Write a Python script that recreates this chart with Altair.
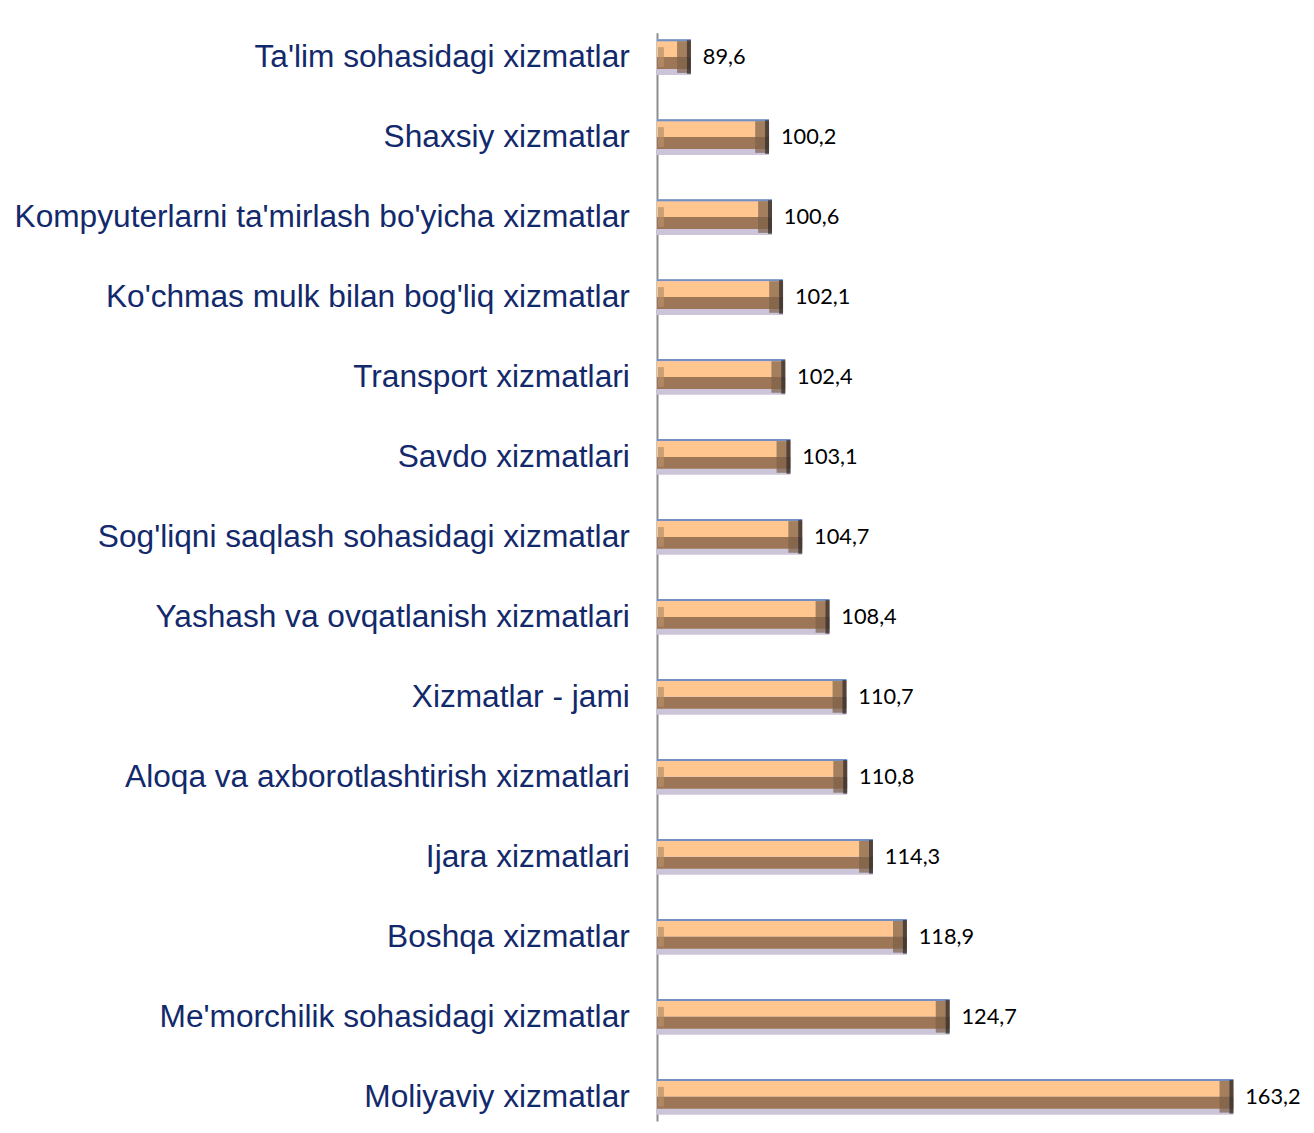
import altair as alt
import pandas as pd

categories = [
    "Ta'lim sohasidagi xizmatlar",
    "Shaxsiy xizmatlar",
    "Kompyuterlarni ta'mirlash bo'yicha xizmatlar",
    "Ko'chmas mulk bilan bog'liq xizmatlar",
    "Transport xizmatlari",
    "Savdo xizmatlari",
    "Sog'liqni saqlash sohasidagi xizmatlar",
    "Yashash va ovqatlanish xizmatlari",
    "Xizmatlar - jami",
    "Aloqa va axborotlashtirish xizmatlari",
    "Ijara xizmatlari",
    "Boshqa xizmatlar",
    "Me'morchilik sohasidagi xizmatlar",
    "Moliyaviy xizmatlar",
]
values = [89.6, 100.2, 100.6, 102.1, 102.4, 103.1, 104.7, 108.4, 110.7, 110.8, 114.3, 118.9, 124.7, 163.2]
value_labels = ["89,6", "100,2", "100,6", "102,1", "102,4", "103,1", "104,7", "108,4",
                "110,7", "110,8", "114,3", "118,9", "124,7", "163,2"]
axis_min = 85
axis_max = 165

df = pd.DataFrame({
    "category": categories,
    "value": values,
    "label": value_labels,
    "base": [axis_min] * len(values),
})

yscale = alt.Scale(paddingInner=0.553, paddingOuter=0.08)
yaxis = alt.Axis(
    title=None, ticks=False, grid=False,
    labelFont="Liberation Sans", labelFontSize=32, labelColor="#12296B",
    labelPadding=28, labelLimit=900,
    domainColor="#8C8C8C", domainWidth=2,
)
xscale = alt.Scale(domain=[axis_min, axis_max], zero=False, nice=False)
xaxis = alt.Axis(orient="top", title=None, labels=False, ticks=False, domain=False,
                 grid=False, minExtent=14, maxExtent=14)


def Y(pos=None):
    if pos is None:
        return alt.Y("category:N", sort=categories, scale=yscale, axis=yaxis)
    return alt.Y("category:N", sort=categories, scale=yscale, axis=yaxis, bandPosition=pos)


X = alt.X("value:Q", scale=xscale, axis=xaxis)
XB = alt.X("base:Q", scale=xscale, axis=xaxis)

base = alt.Chart(df)

bottom_strip = base.mark_bar(color="#CCC5D9").encode(y=Y(), x=XB, x2="value")
top_line = base.mark_rule(color="#7290C4", strokeWidth=2).encode(y=Y(0.028), x=XB, x2="value")
peach = base.mark_rule(color="#FFC68F", strokeWidth=16).encode(y=Y(0.278), x=XB, x2="value")
brown = base.mark_rule(color="#9C7656", strokeWidth=12).encode(y=Y(0.667), x=XB, x2="value")
left_cap = base.mark_tick(size=20, thickness=6, color="#B88E68", xOffset=4).encode(y=Y(), x=XB)
right_bevel = base.mark_tick(size=32, thickness=14, color="#7D6149", xOffset=-7).encode(y=Y(), x=X)
right_edge = base.mark_tick(size=34, thickness=4, color="#2E2A2A", xOffset=-2).encode(y=Y(), x=X)
text = base.mark_text(align="left", baseline="middle", dx=12, font="Lato",
                      fontSize=22, color="#000000").encode(y=Y(), x=X, text="label:N")

chart = alt.layer(
    bottom_strip, peach, top_line, brown, left_cap, right_bevel, right_edge, text
).properties(
    width=596, height=1100,
).configure_view(stroke=None)

chart.save("out.html", embed_options={"renderer": "svg", "actions": False})
